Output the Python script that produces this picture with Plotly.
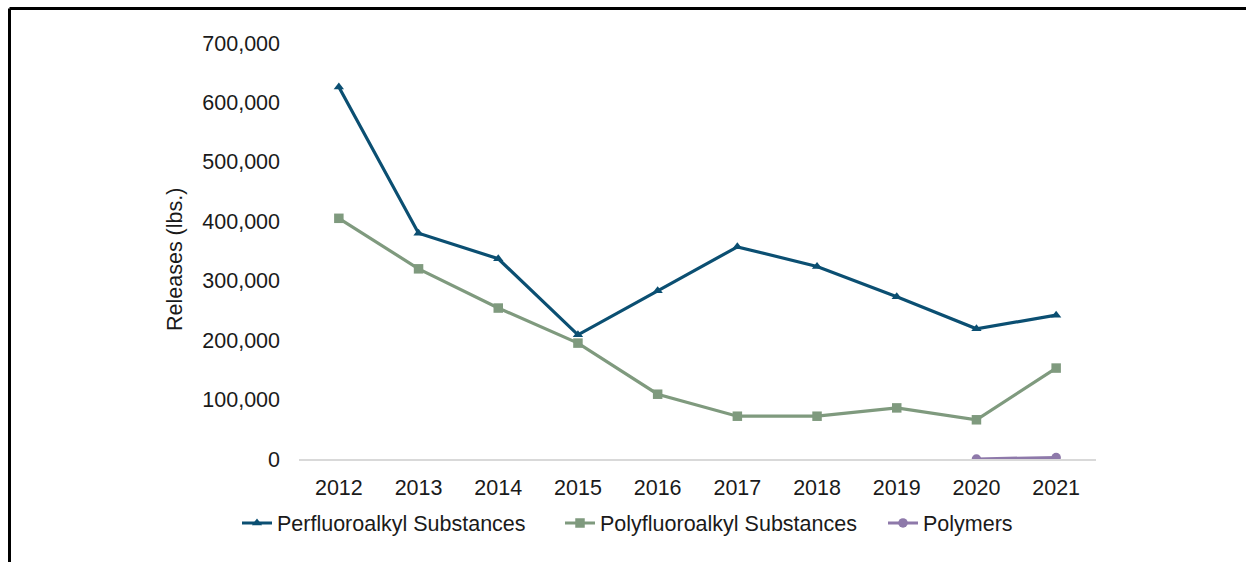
import plotly.graph_objects as go

years = ["2012", "2013", "2014", "2015", "2016", "2017", "2018", "2019", "2020", "2021"]
perfluoroalkyl = [626000, 380000, 337000, 209000, 283000, 357000, 324000, 273000, 219000, 242000]
polyfluoroalkyl = [405000, 320000, 254000, 195000, 109000, 72000, 72000, 86000, 66000, 153000]
polymer_years = ["2020", "2021"]
polymers = [0, 2500]

y_ticks = [0, 100000, 200000, 300000, 400000, 500000, 600000, 700000]
y_tick_text = ["0", "100,000", "200,000", "300,000", "400,000", "500,000", "600,000", "700,000"]

FONT = "Liberation Sans, Arial, sans-serif"
TEXT = "#1a1a1a"
FS = 21.5

fig = go.Figure()
fig.add_trace(go.Scatter(
    x=years, y=perfluoroalkyl, name="Perfluoroalkyl Substances",
    mode="lines+markers",
    line=dict(color="#0b4f72", width=3.2),
    marker=dict(symbol="triangle-up", size=9, color="#0b4f72"),
))
fig.add_trace(go.Scatter(
    x=years, y=polyfluoroalkyl, name="Polyfluoroalkyl Substances",
    mode="lines+markers",
    line=dict(color="#7f9a7e", width=3.2),
    marker=dict(symbol="square", size=9.5, color="#7f9a7e"),
))
fig.add_trace(go.Scatter(
    x=polymer_years, y=polymers, name="Polymers",
    mode="lines+markers",
    line=dict(color="#8e79aa", width=3.2),
    marker=dict(symbol="circle", size=9.5, color="#8e79aa"),
))

# pixel helpers for placing things relative to the plot area
L, R, T, B = 299, 1096, 43, 459
def px(x):
    return (x - L) / (R - L)
def py(y):
    return (B - y) / (B - T)

# frame around the figure (left and top edges)
fig.add_shape(type="line", xref="paper", yref="paper",
              x0=px(9.5), x1=px(1250), y0=py(8.5), y1=py(8.5),
              line=dict(color="black", width=3))
fig.add_shape(type="line", xref="paper", yref="paper",
              x0=px(9.5), x1=px(9.5), y0=py(8.5), y1=py(570),
              line=dict(color="black", width=3))

# y-axis title
fig.add_annotation(text="Releases (lbs.)", xref="paper", yref="paper",
                   x=px(175), y=py(260), xanchor="center", yanchor="middle",
                   textangle=-90, showarrow=False,
                   font=dict(family=FONT, size=FS, color=TEXT))

fig.update_layout(
    width=1246, height=562,
    margin=dict(l=L, r=1246 - R, t=T, b=562 - B, autoexpand=False),
    paper_bgcolor="white", plot_bgcolor="white",
    font=dict(family=FONT, size=FS, color=TEXT),
    showlegend=True,
    legend=dict(
        orientation="h", x=px(237), xanchor="left",
        y=py(523), yanchor="middle",
        font=dict(size=FS, color=TEXT),
        itemwidth=30, entrywidth=278, entrywidthmode="pixels",
    ),
    xaxis=dict(
        type="category", categoryorder="array", categoryarray=years,
        range=[-0.5, 9.5],
        showline=True, linecolor="#d9d9d9", linewidth=1.5,
        showgrid=False, zeroline=False, ticks="",
        ticklabelstandoff=8,
        tickfont=dict(size=FS, color=TEXT),
    ),
    yaxis=dict(
        range=[0, 700000],
        tickvals=y_ticks, ticktext=y_tick_text,
        showgrid=False, zeroline=False, showline=False, ticks="",
        ticklabelstandoff=18,
        tickfont=dict(size=FS, color=TEXT),
    ),
)

fig.write_html("out.html")
